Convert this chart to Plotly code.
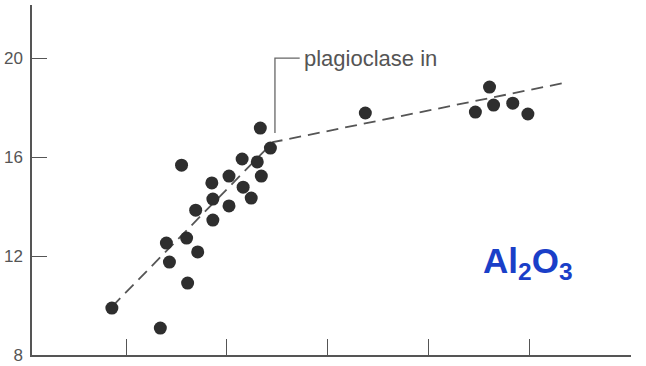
import plotly.graph_objects as go

# Sample data (x in arbitrary units, tick marks at 1..6; y = Al2O3 wt%)
x_vals = [0.86, 1.34, 1.40, 1.43, 1.55, 1.60, 1.61, 1.71, 1.69, 1.85, 1.86, 1.86,
          2.02, 2.02, 2.15, 2.16, 2.24, 2.30, 2.34, 2.33, 2.43,
          3.37, 4.46, 4.60, 4.64, 4.83, 4.98]
y_vals = [9.90, 9.09, 12.53, 11.76, 15.68, 12.73, 10.91, 12.17, 13.86, 14.96, 14.31, 13.46,
          15.24, 14.03, 15.93, 14.79, 14.35, 15.81, 15.24, 17.18, 16.37,
          17.79, 17.83, 18.84, 18.11, 18.19, 17.75]

# Trend line (two segments, break at plagioclase-in)
trend_x = [0.86, 2.455, 5.376]
trend_y = [9.95, 16.61, 19.04]

# Plagioclase-in marker
plag_x = [2.475, 2.475, 2.72]
plag_y = [16.98, 20.01, 20.01]

y_ticks = [8, 12, 16, 20]
x_ticks = [1, 2, 3, 4, 5, 6]

axis_col = "#555555"

fig = go.Figure()
fig.add_trace(go.Scatter(x=trend_x, y=trend_y, mode="lines",
                         line=dict(color="#555555", width=1.8, dash="12px,7px"),
                         hoverinfo="skip", showlegend=False))
fig.add_trace(go.Scatter(x=plag_x, y=plag_y, mode="lines",
                         line=dict(color="#666666", width=1.3),
                         hoverinfo="skip", showlegend=False))
fig.add_trace(go.Scatter(x=x_vals, y=y_vals, mode="markers",
                         marker=dict(color="#2e2e2e", size=13),
                         showlegend=False))

fig.add_annotation(x=2.74, y=20.01, text="plagioclase in", showarrow=False,
                   xanchor="left", yanchor="middle",
                   font=dict(family="Liberation Sans, Arial", size=22, color="#555555"))
fig.add_annotation(x=4.52, y=11.72, text="Al<sub>2</sub>O<sub>3</sub>", showarrow=False,
                   xanchor="left", yanchor="middle",
                   font=dict(family="Liberation Sans, Arial", size=35, color="#1a3fc8", weight="bold"))

fig.update_layout(
    width=646, height=366,
    margin=dict(l=32, r=15, t=5, b=11, autoexpand=False),
    paper_bgcolor="white", plot_bgcolor="white",
    xaxis=dict(range=[0.069, 6.001], tickvals=x_ticks, showticklabels=False,
               ticks="inside", ticklen=16, tickwidth=1.3, tickcolor=axis_col,
               showline=True, linecolor=axis_col, linewidth=1.5,
               showgrid=False, zeroline=False, automargin=False),
    yaxis=dict(range=[8, 22.16], tickvals=y_ticks,
               ticks="inside", ticklen=15, tickwidth=1.3, tickcolor=axis_col,
               showline=True, linecolor=axis_col, linewidth=1.5,
               showgrid=False, zeroline=False, automargin=False,
               ticklabelstandoff=4,
               tickfont=dict(family="Liberation Sans, Arial", size=17, color="#555555")),
)

fig.write_html("out.html", config={"displayModeBar": False},
               post_script="document.body.style.margin='0';document.body.style.overflow='hidden';")
